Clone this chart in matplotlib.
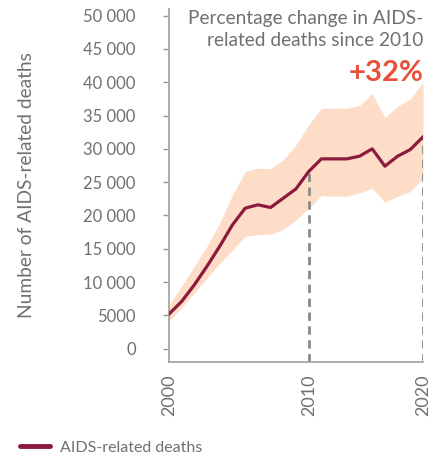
import numpy as np
import matplotlib.pyplot as plt

plt.rcParams['font.family'] = ['Lato', 'DejaVu Sans']

# AIDS-related deaths, central estimate with lower/upper bounds
years = list(range(2000, 2021))
deaths = [5200, 7100, 9600, 12400, 15400, 18600, 21100, 21600, 21200, 22600,
          24000, 26600, 28500, 28500, 28500, 28900, 30000, 27400, 28900, 29900,
          31800]
upper = [6600, 9400, 12400, 15400, 18900, 23100, 26600, 27100, 27000, 28400,
         30600, 33600, 36100, 36100, 36100, 36500, 38300, 34700, 36400, 37500,
         40000]
lower = [4100, 6200, 8400, 10600, 12800, 14800, 16900, 17100, 17200, 17900,
         19300, 21100, 23000, 22900, 22900, 23400, 24100, 22000, 22900, 23600,
         25600]

guide_years = [2011, 2020]
tick_pos = [2000, 2011, 2020]
tick_labels = ['2000', '2010', '2020']
yticks = list(range(0, 50001, 5000))
ytick_labels = ['0', '5000'] + [f'{v // 1000} 000' for v in yticks[2:]]

grey = '#707070'
fig = plt.figure(figsize=(4.43, 4.59), dpi=100)
ax = fig.add_axes([0.3815, 0.2113, 0.5734, 0.7691])

ax.fill_between(years, lower, upper, color='#fddcc8', lw=0, zorder=1)
ax.plot(years, deaths, color='#8c1a3c', lw=2.3, zorder=3, label='AIDS-related deaths')

for gy in guide_years:
    top = np.interp(gy, years, deaths)
    ax.plot([gy, gy], [-2000, top], color='#8a8a8a', lw=2, ls=(0, (3, 2)), zorder=2)

ax.set_xlim(2000, 2020)
ax.set_ylim(-2000, 51000)
ax.set_yticks(yticks)
ax.set_yticklabels(ytick_labels, fontsize=12, color=grey)
ax.set_xticks(tick_pos)
ax.set_xticklabels(tick_labels, rotation=90, fontsize=13, color=grey, va='top')
ax.tick_params(axis='y', length=4, width=1, color='#999999', pad=20)
ax.tick_params(axis='x', length=0, pad=9)

for s in ['top', 'right']:
    ax.spines[s].set_visible(False)
for s in ['left', 'bottom']:
    ax.spines[s].set_color('#a0a0a0')
    ax.spines[s].set_linewidth(1.2)

ax.set_ylabel('Number of AIDS-related deaths', fontsize=13.8, color=grey)
ax.yaxis.set_label_coords(-0.528, 0.5)

ax.text(1.0, 0.942, 'Percentage change in AIDS-\nrelated deaths since 2010',
        transform=ax.transAxes, ha='right', va='center', fontsize=13.8,
        color=grey, linespacing=1.3)
ax.text(1.0, 0.819, '+32%', transform=ax.transAxes, ha='right', va='center',
        fontsize=21, color='#e8503a', fontweight='bold')

leg = fig.legend(loc='center left', bbox_to_anchor=(0.045, 0.024), frameon=False,
                 borderpad=0, borderaxespad=0, fontsize=11.5, labelcolor=grey,
                 handlelength=1.88, handletextpad=0.63)
for h in leg.get_lines():
    h.set_linewidth(3.5)
    h.set_solid_capstyle('round')

fig.savefig('out.png', dpi=100)
